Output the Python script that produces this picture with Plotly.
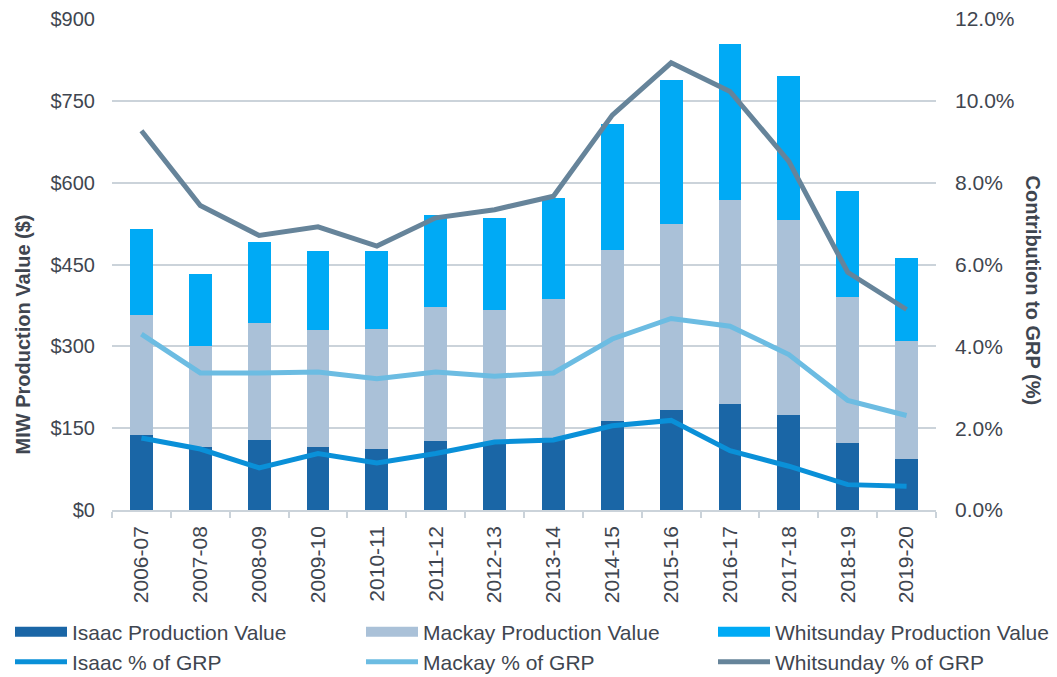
import plotly.graph_objects as go

categories = ["2006-07", "2007-08", "2008-09", "2009-10", "2010-11", "2011-12", "2012-13",
              "2013-14", "2014-15", "2015-16", "2016-17", "2017-18", "2018-19", "2019-20"]

isaac_value = [138, 116, 129, 116, 111, 126, 122, 128, 164, 183, 195, 175, 122, 94]
mackay_value = [220, 185, 214, 214, 220, 247, 245, 259, 313, 342, 374, 356, 269, 215]
whitsunday_value = [157, 132, 149, 144, 144, 167, 169, 185, 230, 263, 286, 264, 194, 153]

isaac_pct = [1.76, 1.49, 1.03, 1.38, 1.15, 1.38, 1.66, 1.71, 2.06, 2.19, 1.45, 1.07, 0.62, 0.58]
mackay_pct = [4.30, 3.35, 3.35, 3.37, 3.21, 3.37, 3.27, 3.35, 4.18, 4.68, 4.49, 3.80, 2.68, 2.31]
whitsunday_pct = [9.27, 7.44, 6.71, 6.92, 6.45, 7.14, 7.34, 7.67, 9.65, 10.93, 10.23, 8.52, 5.81, 4.90]

left_ticks = [0, 150, 300, 450, 600, 750, 900]
left_labels = ["$0", "$150", "$300", "$450", "$600", "$750", "$900"]
right_ticks = [0, 2, 4, 6, 8, 10, 12]
right_labels = ["0.0%", "2.0%", "4.0%", "6.0%", "8.0%", "10.0%", "12.0%"]

C_ISAAC_BAR = "#1A66A6"
C_MACKAY_BAR = "#AAC1D8"
C_WHITS_BAR = "#00AAF5"
C_ISAAC_LINE = "#0A90D8"
C_MACKAY_LINE = "#6CBCE2"
C_WHITS_LINE = "#66849A"
TXT = "#3F4650"
GRID = "#CBD3DA"
FONT = "Liberation Sans, Arial, sans-serif"
FS = 20

fig = go.Figure()

bars = [("Isaac Production Value", isaac_value, C_ISAAC_BAR),
        ("Mackay Production Value", mackay_value, C_MACKAY_BAR),
        ("Whitsunday Production Value", whitsunday_value, C_WHITS_BAR)]
lines = [("Isaac % of GRP", isaac_pct, C_ISAAC_LINE),
         ("Mackay % of GRP", mackay_pct, C_MACKAY_LINE),
         ("Whitsunday % of GRP", whitsunday_pct, C_WHITS_LINE)]

# legend slots: column x (px) and row centre y (px)
col_x = [10, 361, 713]
row_y = [632, 662]

for name, vals, col in bars:
    fig.add_trace(go.Bar(x=categories, y=vals, name=name, marker=dict(color=col, line=dict(width=0)),
                         showlegend=False, yaxis="y"))

legend_defs = {}
k = 0
# legend entries for bars (wide rectangles)
for i, (name, vals, col) in enumerate(bars):
    k += 1
    lname = "legend" if k == 1 else f"legend{k}"
    fig.add_trace(go.Scatter(x=[None], y=[None], mode="lines", name=name,
                             line=dict(color=col, width=11), legend=lname, hoverinfo="skip"))
    legend_defs[lname] = (col_x[i], row_y[0])

for i, (name, vals, col) in enumerate(lines):
    k += 1
    lname = f"legend{k}"
    fig.add_trace(go.Scatter(x=categories, y=vals, name=name, mode="lines",
                             line=dict(color=col, width=5), yaxis="y2", legend=lname))
    legend_defs[lname] = (col_x[i], row_y[1])

for lname, (px, py) in legend_defs.items():
    fig.update_layout({lname: dict(orientation="h", xref="container", yref="container",
                                   x=px / 1057, y=1 - py / 677, yanchor="middle", xanchor="left",
                                   itemwidth=52, font=dict(size=21, color=TXT),
                                   bgcolor="rgba(0,0,0,0)")})

fig.update_layout(
    width=1057, height=677,
    margin=dict(l=112, r=121, t=19, b=167, autoexpand=False),
    paper_bgcolor="white", plot_bgcolor="white",
    font=dict(family=FONT, size=FS, color=TXT),
    barmode="stack", bargap=0.61,
    xaxis=dict(type="category", tickangle=-90, ticks="outside", tickson="boundaries",
               ticklen=6, tickcolor=GRID, tickwidth=1.5, showline=True, linecolor=GRID, linewidth=1.5,
               showgrid=False, ticklabelstandoff=6, automargin=False,
               tickfont=dict(size=21, color=TXT)),
    yaxis=dict(range=[0, 900], tickmode="array", tickvals=left_ticks, ticktext=left_labels,
               showgrid=True, gridcolor=GRID, gridwidth=1.5, zeroline=False, ticklabelstandoff=16,
               automargin=False, tickfont=dict(size=FS, color=TXT)),
    yaxis2=dict(range=[0, 12], tickmode="array", tickvals=right_ticks, ticktext=right_labels,
                overlaying="y", side="right", showgrid=False, zeroline=False,
                ticklabelstandoff=18, automargin=False, tickfont=dict(size=21, color=TXT)),
    annotations=[
        dict(text="<b>MIW Production Value ($)</b>", xref="paper", yref="paper",
             x=(22 - 112) / 824, y=(510.5 - 335) / 491, textangle=-90, showarrow=False,
             font=dict(size=FS, color=TXT), xanchor="center", yanchor="middle"),
        dict(text="<b>Contribution to GRP (%)</b>", xref="paper", yref="paper",
             x=1 + (1033 - 936) / 824, y=(510.5 - 291) / 491, textangle=90, showarrow=False,
             font=dict(size=FS, color=TXT), xanchor="center", yanchor="middle"),
    ],
)

fig.write_html("out.html", config={"displayModeBar": False},
               post_script="document.body.style.margin='0';")
